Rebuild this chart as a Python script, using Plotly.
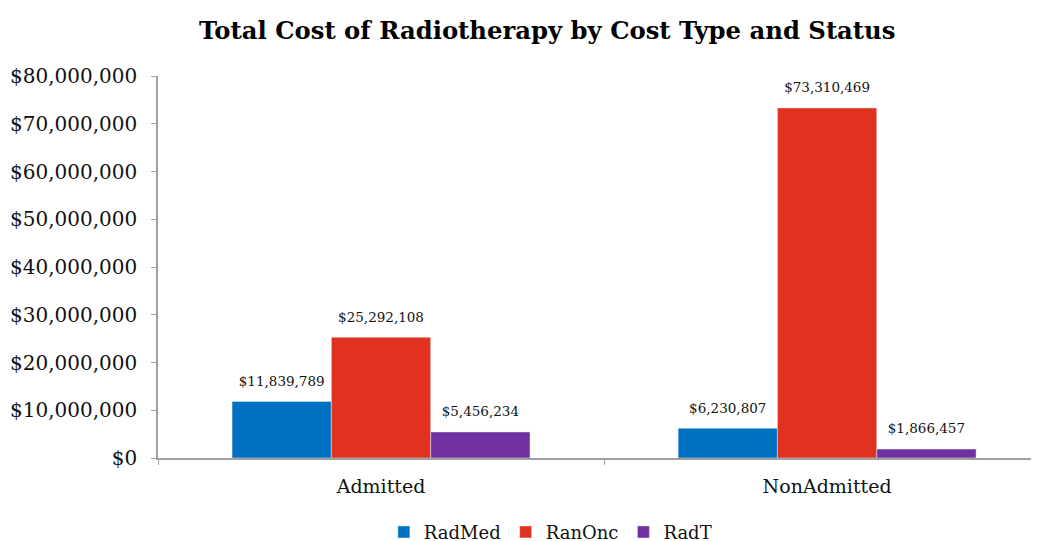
import plotly.graph_objects as go

status = ["Admitted", "NonAdmitted"]
cost_types = ["RadMed", "RanOnc", "RadT"]
radmed = [11839789, 6230807]
ranonc = [25292108, 73310469]
radt = [5456234, 1866457]
colors = ["#0070C0", "#E0321E", "#7030A0"]

fig = go.Figure()
for name, vals, col in zip(cost_types, [radmed, ranonc, radt], colors):
    fig.add_trace(go.Bar(
        x=status, y=vals, name=name, marker_color=col,
        offsetgroup=name, alignmentgroup="a",
    ))
# value labels sit above each bar
for name, vals in zip(cost_types, [radmed, ranonc, radt]):
    fig.add_trace(go.Scatter(
        x=status, y=vals, mode="markers+text", showlegend=False, hoverinfo="skip",
        offsetgroup=name, alignmentgroup="a",
        marker=dict(size=18, opacity=0),
        text=[f"${v:,.0f}" for v in vals], textposition="top center",
        textfont=dict(family="DejaVu Serif", size=13.5, color="#111"),
        cliponaxis=False,
    ))

fig.update_layout(
    title=dict(text="<b>Total Cost of Radiotherapy by Cost Type and Status</b>",
               x=0.519, xanchor="center", y=0.959, yanchor="middle",
               font=dict(family="DejaVu Serif", size=24.3, color="#000")),
    width=1039, height=541,
    margin=dict(l=150, r=0, t=68, b=91, autoexpand=False),
    plot_bgcolor="white", paper_bgcolor="white",
    barmode="group", bargap=0.332, bargroupgap=0,
    scattermode="group", scattergap=0.332,
    font=dict(family="DejaVu Serif", color="#111"),
    legend=dict(orientation="h", xref="container", x=0.522, xanchor="center",
                yref="container", y=0.031, yanchor="middle",
                font=dict(size=18), itemwidth=30, traceorder="normal"),
)
fig.update_yaxes(range=[0, 80000000], dtick=10000000, tickprefix="$", tickformat=",",
                 showgrid=False, showline=True, linecolor="#A0A0A0", linewidth=1.5,
                 ticks="outside", ticklen=5, tickcolor="#A0A0A0", zeroline=False,
                 tickfont=dict(size=20), automargin=False, ticklabelstandoff=10)
fig.update_xaxes(range=[-0.5, 1.493], showline=True, linecolor="#A0A0A0", linewidth=1.5,
                 ticks="outside", ticklen=5, tickcolor="#A0A0A0", tickson="boundaries",
                 tickfont=dict(size=19), automargin=False, ticklabelstandoff=10)

fig.write_html("out.html")
